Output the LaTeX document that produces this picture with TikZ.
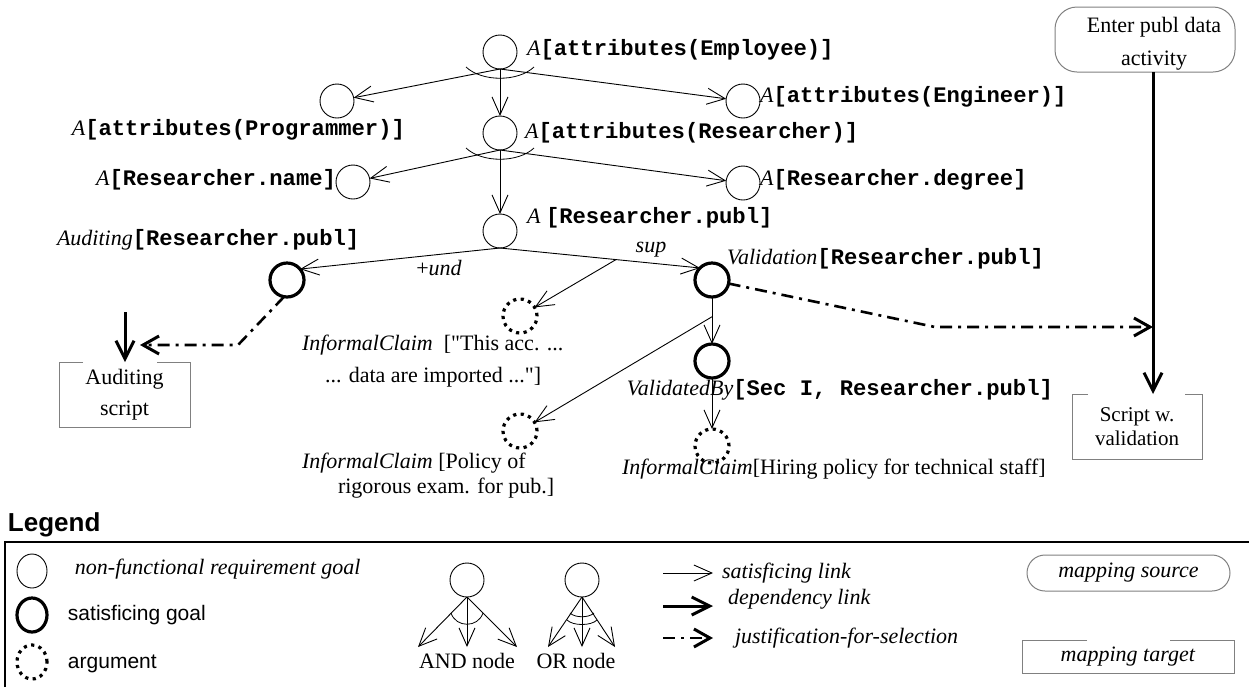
\documentclass[tikz,border=0pt]{standalone}
\usepackage{fontspec}
\setmainfont{Liberation Serif}
\setsansfont{Liberation Sans}
\setmonofont{Liberation Mono}
\usetikzlibrary{arrows.meta,shapes.geometric}
\newcommand\mcode[1]{{\fontsize{11.1pt}{13pt}\selectfont\ttfamily\bfseries #1}}
\newcommand\sq{\XeTeXglyph\XeTeXcharglyph"22\relax}
\begin{document}
\begin{tikzpicture}[x=0.5pt,y=-0.5pt,
  font=\fontsize{11pt}{13pt}\selectfont,
  every node/.style={inner sep=0pt, outer sep=0pt},
  txt/.style={text height=7.5pt, text depth=2.5pt},
  goal/.style={circle, draw, line width=0.45pt, minimum size=17pt},
  sgoal/.style={circle, draw, line width=1.6pt, minimum size=17pt},
  arg/.style={circle, draw, line width=1.6pt, dash pattern=on 1.6pt off 2.2pt, minimum size=17pt},
  sat/.style={draw, line width=0.45pt, -{Straight Barb[length=9pt,width=8pt,line width=0.45pt]}},
  dep/.style={draw, line width=1.5pt, -{Straight Barb[length=9pt,width=9pt,line width=1.5pt]}},
  jus/.style={draw, line width=1.3pt, dash pattern=on 6pt off 3pt on 1.5pt off 3pt, -{Straight Barb[length=8pt,width=9pt,line width=1.5pt]}},
  boxline/.style={draw=gray, line width=0.5pt},
]
\useasboundingbox (0,0) rectangle (1249,687);

% ---- goal tree ----
\node[goal] (E) at (500,52) {};
\node[txt, anchor=west] (Et) at (527,50) {\textit{A}\mcode{[attributes(Employee)]}};
\node[goal] (P) at (337,101) {};
\node[txt, anchor=east] (Pt) at (405,130) {\textit{A}\mcode{[attributes(Programmer)]}};
\node[goal] (G) at (743,101) {};
\node[txt, anchor=west] (Gt) at (760,97) {\textit{A}\mcode{[attributes(Engineer)]}};
\node[goal] (R) at (500,133) {};
\node[txt, anchor=west] (Rt) at (525,133) {\textit{A}\mcode{[attributes(Researcher)]}};
\node[goal] (N) at (353,182) {};
\node[txt, anchor=east] (Nt) at (336,180) {\textit{A}\mcode{[Researcher.name]}};
\node[goal] (D) at (743,183) {};
\node[txt, anchor=west] (Dt) at (760,180) {\textit{A}\mcode{[Researcher.degree]}};
\node[goal] (U) at (500,231) {};
\node[txt, anchor=west] (Ut) at (527,218) {\textit{A} \mcode{[Researcher.publ]}};

\node[sgoal] (AU) at (287,280) {};
\node[txt, anchor=west] (AUt) at (57,240) {\textit{Auditing}\mcode{[Researcher.publ]}};
\node[sgoal] (V) at (712,280) {};
\node[txt, anchor=west] (Vt) at (727,259) {\textit{Validation}\mcode{[Researcher.publ]}};
\node[arg] (I1) at (520,316) {};
\node[txt, anchor=west] (I1t) at (302,345) {\textit{InformalClaim}\ \ [\sq This acc. ...};
\node[txt, anchor=west] (I1u) at (325,377) {... data are imported ...\sq]};
\node[sgoal] (VB) at (712,361) {};
\node[txt, anchor=east] (VBt) at (1053,390) {\textit{ValidatedBy}\mcode{[Sec I, Researcher.publ]}};
\node[arg] (I2) at (520,431) {};
\node[txt, anchor=west] (I2t) at (302,463) {\textit{InformalClaim} [Policy of};
\node[txt, anchor=west] (I2u) at (338,488) {rigorous exam. for pub.]};
\node[arg] (I3) at (712,446) {};
\node[txt, anchor=west] (I3t) at (622,469) {\textit{InformalClaim}[Hiring policy for technical staff]};

\node[txt] (und) at (439,270) {+\textit{und}};
\node[txt] (sup) at (651,247) {\textit{sup}};

% satisficing links
\draw[sat] (E.south) -- (P);
\draw[sat] (E.south) -- (G);
\draw[sat] (E.south) -- (R.north);
\draw (466,67) .. controls (482,82) and (518,82) .. (534,67);
\draw[sat] (R.south) -- (N);
\draw[sat] (R.south) -- (D);
\draw[sat] (R.south) -- (U.north);
\draw (466,148) .. controls (482,163) and (518,163) .. (534,148);
\draw[sat] (U.south) -- (AU.40);
\draw[sat] (U.south) -- (V.135);
\path (U.south) -- (V.135) coordinate[pos=0.58] (s1);
\draw[sat] (s1) -- (I1);
\draw[sat] (V.south) -- (VB.north);
\path (V.south) -- (VB.north) coordinate[pos=0.42] (s2);
\draw[sat] (s2) -- (I2);
\draw[sat] (VB.south) -- (I3.north);

% ---- activity / scripts ----
\node[boxline, rounded corners=11pt, minimum width=90pt, minimum height=32.5pt] (En) at (1145,39.5) {};
\node[txt] (Ent1) at (1154,27) {Enter publ data};
\node[txt] (Ent2) at (1154,60) {activity};
\node[minimum width=65pt, minimum height=32.5pt, align=center,
      font=\fontsize{10.5pt}{12pt}\selectfont] (Sc) at (1137,426.5) {Script w.\\validation};
\draw[boxline] ([xshift=8pt]Sc.north west) -- (Sc.north west) -- (Sc.south west) -- (Sc.south east) -- (Sc.north east) -- ([xshift=-8.5pt]Sc.north east);
\node[minimum width=65.5pt, minimum height=32.5pt, align=center,
      font=\fontsize{11pt}{15.5pt}\selectfont] (AS) at (124.5,394.5) {Auditing\\script};
\draw[boxline] ([xshift=12pt]AS.north west) -- (AS.north west) -- (AS.south west) -- (AS.south east) -- (AS.north east) -- ([xshift=-16.5pt]AS.north east);

\coordinate (dx) at (1153,0);
\draw[dep] (En.south -| dx) -- (Sc.north -| dx);
\coordinate (jb) at (935,327);
\coordinate (jt) at (1153,327);
\draw[jus] (V.-12) -- (jb) -- (jt);
\coordinate (ab) at (238,345);
\coordinate (at) at (140,345);
\draw[jus] (AU.-100) -- (ab) -- (at);
\coordinate (ad) at (125,312);
\draw[dep] (ad) -- (AS.north -| ad);

% ---- legend ----
\node[anchor=west, font=\sffamily\bfseries\fontsize{13pt}{15pt}\selectfont] (lg) at (8,525) {Legend};
\draw[line width=1.1pt] (5,687) -- (5,542) -- (1249,542);

\node[goal, ellipse, minimum width=15pt, minimum height=17pt] (L1) at (32,571) {};
\node[txt, anchor=west] (L1t) at (75,569) {\textit{non-functional requirement goal}};
\node[sgoal, ellipse, minimum width=15pt, minimum height=17pt] (L2) at (32,615) {};
\node[txt, anchor=west, font=\sffamily\fontsize{10.5pt}{12pt}\selectfont] (L2t) at (68,615) {satisficing goal};
\node[arg, ellipse, minimum width=15pt, minimum height=17pt] (L3) at (32,662) {};
\node[txt, anchor=west, font=\sffamily\fontsize{10.5pt}{12pt}\selectfont] (L3t) at (68,663) {argument};

\node[goal] (An) at (467,580) {};
\coordinate (a1) at (418,647);
\coordinate (a2) at (467,647);
\coordinate (a3) at (517,647);
\draw[sat] (An.south) -- (a1);
\draw[sat] (An.south) -- (a2);
\draw[sat] (An.south) -- (a3);
\draw (451,613) .. controls (456,628) and (478,628) .. (483,613);
\node[txt] (Ant) at (467,663) {AND node};

\node[goal] (On) at (582,580) {};
\coordinate (o1) at (548,647);
\coordinate (o2) at (582,647);
\coordinate (o3) at (615,647);
\draw[sat] (On.south) -- (o1);
\draw[sat] (On.south) -- (o2);
\draw[sat] (On.south) -- (o3);
\draw (570,613) .. controls (575,618) and (589,618) .. (594,613);
\draw (567,620) .. controls (573,626) and (591,626) .. (597,620);
\node[txt] (Ont) at (576,663) {OR node};

\coordinate (sa) at (663,573);
\coordinate (sb) at (713,573);
\draw[sat] (sa) -- (sb);
\node[txt, anchor=west] (sat) at (722,573) {\textit{satisficing link}};
\coordinate (da) at (663,606);
\coordinate (db) at (713,606);
\draw[dep] (da) -- (db);
\node[txt, anchor=west] (dpt) at (728,599) {\textit{dependency link}};
\coordinate (ja) at (663,638);
\coordinate (jbb) at (713,638);
\draw[jus] (ja) -- (jbb);
\node[txt, anchor=west] (jst) at (735,638) {\textit{justification-for-selection}};

\node[boxline, rounded corners=9pt, minimum width=101.5pt, minimum height=18pt] (MS) at (1128.5,573) {\textit{mapping source}};
\node[minimum width=106pt, minimum height=16.5pt] (MT) at (1128,657) {\textit{mapping target}};
\draw[boxline] ([xshift=32.5pt]MT.north west) -- (MT.north west) -- (MT.south west) -- (MT.south east) -- (MT.north east) -- ([xshift=-32pt]MT.north east);
\end{tikzpicture}
\end{document}
